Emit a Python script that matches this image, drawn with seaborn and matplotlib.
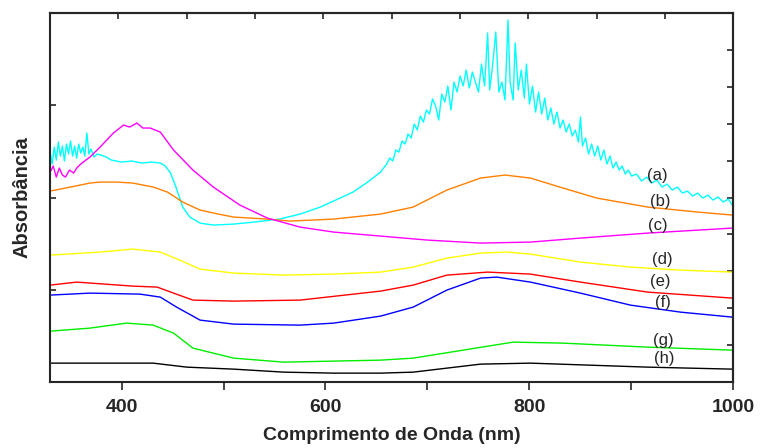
import matplotlib
matplotlib.use("Agg")
import matplotlib.pyplot as plt
import numpy as np
import pandas as pd
import seaborn as sns

# ── Spectra (wavelength nm, absorbance a.u.) ──
wl_a = [330, 332, 334, 336, 338, 340, 342, 344, 346, 348, 350, 352, 354, 356, 358, 360,
        362, 364, 366, 368, 370, 373, 376, 380, 385, 390, 400, 410, 420, 430, 438, 443,
        448, 453, 460, 467, 477, 490, 510, 530, 555, 575, 595, 610, 627, 640, 654,
        660, 663, 666, 669, 672, 675, 678, 681, 684, 687, 690, 693, 696, 699, 702, 705,
        708, 711, 714, 717, 720, 723, 726, 729, 732, 735, 738, 741, 744, 747, 750, 753,
        756, 759, 761, 764, 767, 770, 773, 776, 779, 781, 784, 786, 789, 792, 795, 797,
        800, 803, 806, 809, 812, 815, 818, 821, 824, 827, 830, 833, 836, 839, 842, 845,
        848, 850, 852, 855, 858, 861, 864, 867, 870, 873, 876, 879, 882, 885, 888, 891,
        894, 897, 900, 905, 910, 915, 920, 925, 930, 935, 940, 945, 950, 955, 960, 965,
        970, 975, 980, 985, 990, 995, 999]
ab_a = [230, 218, 235, 222, 240, 226, 236, 221, 238, 228, 241, 226, 236, 224, 238, 229,
        235, 226, 249, 228, 233, 225, 228, 227, 225, 222, 220, 221, 219, 220, 219, 216,
        209, 196, 175, 165, 159, 157, 158, 160, 163, 168, 175, 182, 190, 199, 210,
        218, 224, 221, 232, 230, 241, 238, 248, 244, 258, 252, 266, 260, 272, 268, 283,
        276, 262, 288, 280, 296, 272, 300, 290, 306, 296, 312, 294, 310, 300, 290, 318,
        296, 349, 292, 318, 350, 290, 300, 282, 362, 300, 282, 339, 292, 312, 284, 318,
        278, 296, 270, 290, 268, 284, 262, 274, 258, 270, 254, 262, 250, 258, 246, 252,
        240, 265, 236, 244, 228, 238, 226, 236, 222, 232, 218, 226, 214, 220, 212, 216,
        208, 212, 206, 208, 201, 205, 199, 202, 195, 198, 192, 195, 189, 191, 186, 189,
        184, 187, 182, 185, 180, 183, 177]

wl_b = [330, 350, 369, 379, 395, 411, 431, 445, 460, 477, 495, 510, 543, 565, 608, 654,
        686, 719, 752, 776, 801, 833, 866, 916, 965, 999]
ab_b = [191, 195, 199, 200, 200, 199, 195, 190, 180, 172, 168, 165, 163, 161, 163, 168,
        175, 192, 204, 207, 204, 194, 184, 175, 170, 167]

wl_c = [330, 333, 336, 339, 342, 345, 349, 353, 356, 360, 365, 369, 379, 392, 402, 408,
        415, 421, 428, 438, 451, 470, 490, 516, 543, 575, 608, 654, 700, 752, 801, 850,
        916, 999]
ab_c = [210, 216, 205, 214, 207, 205, 212, 209, 214, 218, 222, 225, 235, 249, 257, 255,
        259, 254, 254, 250, 232, 212, 195, 177, 164, 155, 150, 146, 142, 139, 140, 144,
        149, 154]

wl_d = [330, 379, 411, 438, 457, 477, 510, 559, 608, 654, 686, 719, 752, 778, 801, 850,
        899, 948, 999]
ab_d = [127, 130, 133, 130, 122, 113, 109, 107, 108, 110, 115, 124, 129, 130, 128, 120,
        115, 112, 110]

wl_e = [330, 356, 411, 435, 451, 470, 510, 575, 654, 686, 719, 759, 801, 850, 916, 999]
ab_e = [97, 100, 96, 95, 89, 82, 81, 82, 91, 97, 107, 110, 108, 100, 90, 84]

wl_f = [330, 369, 418, 438, 454, 477, 510, 575, 608, 654, 686, 719, 752, 768, 801, 850,
        899, 948, 999]
ab_f = [87, 89, 88, 85, 75, 62, 58, 57, 59, 66, 75, 92, 104, 105, 100, 89,
        77, 70, 65]

wl_g = [330, 369, 405, 431, 451, 470, 510, 559, 654, 686, 735, 784, 833, 916, 999]
ab_g = [51, 54, 59, 57, 49, 34, 24, 20, 22, 24, 32, 40, 39, 35, 32]

wl_h = [330, 431, 464, 510, 559, 608, 654, 686, 752, 801, 916, 999]
ab_h = [19, 19, 15, 13, 10, 9, 9, 10, 18, 19, 15, 13]

series = ["a", "b", "c", "d", "e", "f", "g", "h"]
colors = ["#00FFFF", "#FF8000", "#FF00FF", "#FFFF00", "#FF0000", "#0000FF", "#00EE00", "#000000"]
label_x = [925, 928, 926, 930, 928, 931, 931, 932]
label_y = [207, 181, 157, 123, 101, 80, 42, 24]

# ── Long-form table ──────────────────────────────────────
wls = [wl_a, wl_b, wl_c, wl_d, wl_e, wl_f, wl_g, wl_h]
abs_ = [ab_a, ab_b, ab_c, ab_d, ab_e, ab_f, ab_g, ab_h]
df = pd.concat([pd.DataFrame({"wl": w, "ab": a, "s": s})
                for w, a, s in zip(wls, abs_, series)], ignore_index=True)

sns.set_style("ticks")
plt.rcParams["font.family"] = ["Liberation Sans", "DejaVu Sans"]

fig = plt.figure(figsize=(7.6, 4.48), dpi=100)
ax = fig.add_axes([0.066, 0.147, 0.899, 0.824])

sns.lineplot(data=df, x="wl", y="ab", hue="s", palette=dict(zip(series, colors)),
             estimator=None, sort=False, linewidth=1.0, legend=False, ax=ax)

for s, lx, ly in zip(series, label_x, label_y):
    ax.text(lx, ly, f"({s})", fontsize=12, ha="center", va="center")

xmin, xmax, ymin, ymax = 330, 1000, 0, 369
ax.set_xlim(xmin, xmax)
ax.set_ylim(ymin, ymax)

ax.set_xticks([400, 600, 800, 1000])
ax.set_xticks([500, 700, 900], minor=True)
ax.set_xticklabels(["400", "600", "800", "1000"], fontsize=14, fontweight="bold")
ax.tick_params(axis="x", which="both", direction="out", length=6, width=1.2, pad=6)
ax.set_yticks(np.linspace(ymin, ymax, 5))
ax.set_yticklabels([])
ax.tick_params(axis="y", direction="in", length=4, width=1.2)

top = ax.secondary_xaxis("top")
top.set_xticks(np.linspace(xmin, xmax, 11))
top.set_xticklabels([])
top.tick_params(direction="in", length=4, width=1.2)
right = ax.secondary_yaxis("right")
right.set_yticks(np.linspace(ymin, ymax, 11))
right.set_yticklabels([])
right.tick_params(direction="in", length=4, width=1.2)

for sp in list(ax.spines.values()) + [top.spines["top"], right.spines["right"]]:
    sp.set_linewidth(1.5)
    sp.set_visible(True)

ax.set_xlabel("Comprimento de Onda (nm)", fontsize=14, fontweight="bold", labelpad=8)
ax.set_ylabel("Absorbância", fontsize=14.5, fontweight="bold", labelpad=10)

fig.savefig("out.png", dpi=100)
